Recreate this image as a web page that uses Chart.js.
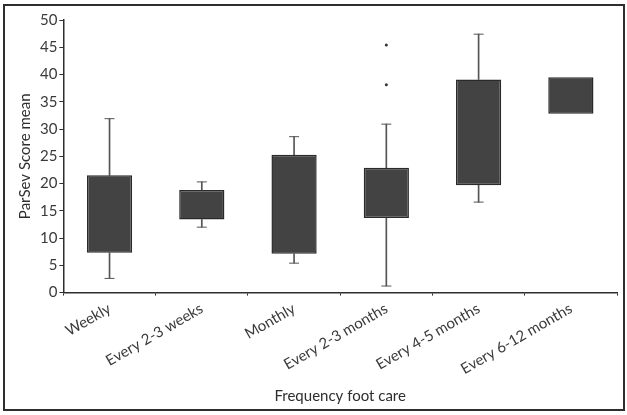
<!DOCTYPE html>
<html>
<head>
<meta charset="utf-8">
<script src="https://cdn.jsdelivr.net/npm/chart.js@4.4.1/dist/chart.umd.min.js"></script>
<style>
  html, body { margin: 0; padding: 0; background: #fff; }
  #wrap { position: relative; width: 627px; height: 415px; }
  #frame { position: absolute; left: 3px; top: 4px; width: 618px; height: 403px; border: 2px solid #2e2e2e; pointer-events: none; }
</style>
</head>
<body>
<div id="wrap">
  <canvas id="c" width="627" height="415"></canvas>
  <div id="frame"></div>
</div>
<script>
const categories = ['Weekly', 'Every 2-3 weeks', 'Monthly', 'Every 2-3 months', 'Every 4-5 months', 'Every 6-12 months'];
const boxLow  = [7.3, 13.4, 7.1, 13.7, 19.7, 32.8];
const boxHigh = [21.5, 18.8, 25.3, 22.9, 39.1, 39.5];
const whiskerMin = [2.6, 12.0, 5.4, 1.2, 16.6, null];
const whiskerMax = [31.9, 20.3, 28.6, 30.9, 47.4, null];
const outlierCategory = ['Every 2-3 months', 'Every 2-3 months'];
const outlierValues = [45.4, 38.1];
const yTicks = [0, 5, 10, 15, 20, 25, 30, 35, 40, 45, 50];

const FONT = 'Lato, "Open Sans", sans-serif';
const boxes = categories.map((c, i) => [boxLow[i], boxHigh[i]]);
const lowerWhisker = categories.map((c, i) => whiskerMin[i] == null ? null : [whiskerMin[i], boxLow[i]]);
const upperWhisker = categories.map((c, i) => whiskerMax[i] == null ? null : [boxHigh[i], whiskerMax[i]]);
const outliers = outlierValues.map((v, i) => ({ x: outlierCategory[i], y: v }));

new Chart(document.getElementById('c'), {
  data: {
    labels: categories,
    datasets: [
      { type: 'bar', data: lowerWhisker, backgroundColor: '#555', barThickness: 1, grouped: false, order: 3 },
      { type: 'bar', data: upperWhisker, backgroundColor: '#555', barThickness: 1, grouped: false, order: 3 },
      { type: 'line', data: whiskerMin, showLine: false, pointStyle: 'line', pointRadius: 5, borderColor: '#555', borderWidth: 1, order: 3 },
      { type: 'line', data: whiskerMax, showLine: false, pointStyle: 'line', pointRadius: 5, borderColor: '#555', borderWidth: 1, order: 3 },
      { type: 'bar', data: boxes, backgroundColor: '#434343', borderColor: '#2a2a2a', borderWidth: 1.5, borderSkipped: false,
        barPercentage: 0.49, categoryPercentage: 1, grouped: false, order: 1 },
      { type: 'line', data: outliers, showLine: false, pointStyle: 'circle', pointRadius: 1.5, backgroundColor: '#333', borderColor: '#333', borderWidth: 0, order: 0 }
    ]
  },
  options: {
    responsive: false,
    animation: false,
    layout: { padding: { top: 20, right: 10, bottom: 10, left: 16 } },
    plugins: { legend: { display: false }, tooltip: { enabled: false } },
    scales: {
      x: {
        type: 'category',
        offset: true,
        border: { display: true, color: '#2e2e2e', width: 1.5 },
        grid: { drawOnChartArea: false, drawTicks: true, tickLength: 3, color: '#2e2e2e' },
        ticks: { minRotation: 30, maxRotation: 30, color: '#3a3a3a', font: { family: FONT, size: 15 }, padding: 4 },
        title: { display: true, text: 'Frequency foot care', color: '#2e2e2e', font: { family: FONT, size: 15 }, padding: { top: 5, bottom: 0 } }
      },
      y: {
        min: 0, max: 50,
        afterBuildTicks: (axis) => { axis.ticks = yTicks.map(v => ({ value: v })); },
        border: { display: true, color: '#2e2e2e', width: 1.5 },
        grid: { drawOnChartArea: false, drawTicks: true, tickLength: 4, color: '#2e2e2e' },
        ticks: { color: '#3a3a3a', font: { family: FONT, size: 15 }, padding: 2 },
        title: { display: true, text: 'ParSev Score mean', color: '#2e2e2e', font: { family: FONT, size: 15 }, padding: { top: 0, bottom: 4 } }
      }
    }
  }
});
</script>
</body>
</html>
